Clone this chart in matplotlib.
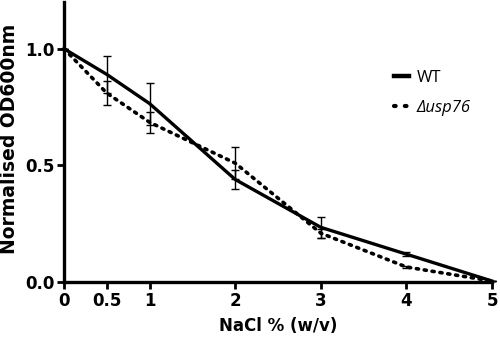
import matplotlib
matplotlib.use("Agg")
import matplotlib.pyplot as plt
from matplotlib.lines import Line2D

nacl = [0, 0.5, 1, 2, 3, 4, 5]
wt = [1.0, 0.89, 0.765, 0.44, 0.235, 0.12, 0.005]
wt_err = [0.0, 0.08, 0.09, 0.04, 0.045, 0.008, 0.0]
mut = [1.0, 0.81, 0.685, 0.51, 0.21, 0.065, 0.005]
mut_err = [0.0, 0.05, 0.045, 0.07, 0.02, 0.005, 0.0]
xticks = [0, 0.5, 1, 2, 3, 4, 5]
xticklabels = ["0", "0.5", "1", "2", "3", "4", "5"]
yticks = [0.0, 0.5, 1.0]
yticklabels = ["0.0", "0.5", "1.0"]

fig = plt.figure(figsize=(5, 3.4), dpi=100)
ax = fig.add_axes([0.128, 0.17, 0.856, 0.824])

dots = (0, (0.6, 1.6))
ax.errorbar(nacl, wt, yerr=wt_err, color="black", lw=2.4, elinewidth=1.0,
            capsize=3, capthick=1.0, clip_on=False, zorder=3)
ax.errorbar(nacl, mut, yerr=mut_err, color="black", lw=2.6, ls=dots,
            dash_capstyle="round", elinewidth=1.0, capsize=3, capthick=1.0,
            clip_on=False, zorder=3)

ax.set_xlim(0, 5)
ax.set_ylim(0, 1.2)
for s in ["top", "right"]:
    ax.spines[s].set_visible(False)
for s in ["left", "bottom"]:
    ax.spines[s].set_linewidth(2.4)
ax.tick_params(width=2.0, length=5, direction="out", pad=2)
tfont = {"family": "DejaVu Sans", "weight": "bold", "size": 12}
ax.set_xticks(xticks)
ax.set_xticklabels(xticklabels, **tfont)
ax.set_yticks(yticks)
ax.set_yticklabels(yticklabels, **tfont)
ax.set_xlabel("NaCl % (w/v)", fontsize=12, fontweight="bold", family="DejaVu Sans", labelpad=5)
ax.set_ylabel("Normalised OD600nm", fontsize=13.5, fontweight="bold", family="DejaVu Sans")
ax.yaxis.set_label_coords(-0.105, 0.512)

h1 = Line2D([0], [0], color="black", lw=3.2)
h2 = Line2D([0], [0], color="black", lw=3.0, ls=(0, (0.4, 2.2)), dash_capstyle="round")
leg = ax.legend([h1, h2], ["WT", "Δusp76"], loc="upper left", bbox_to_anchor=(0.737, 0.81),
                frameon=False, handlelength=0.9, handletextpad=0.45,
                prop={"family": "Open Sans", "size": 12}, labelspacing=0.8)
leg.get_texts()[1].set_fontstyle("italic")

fig.savefig("out.png", dpi=100)
